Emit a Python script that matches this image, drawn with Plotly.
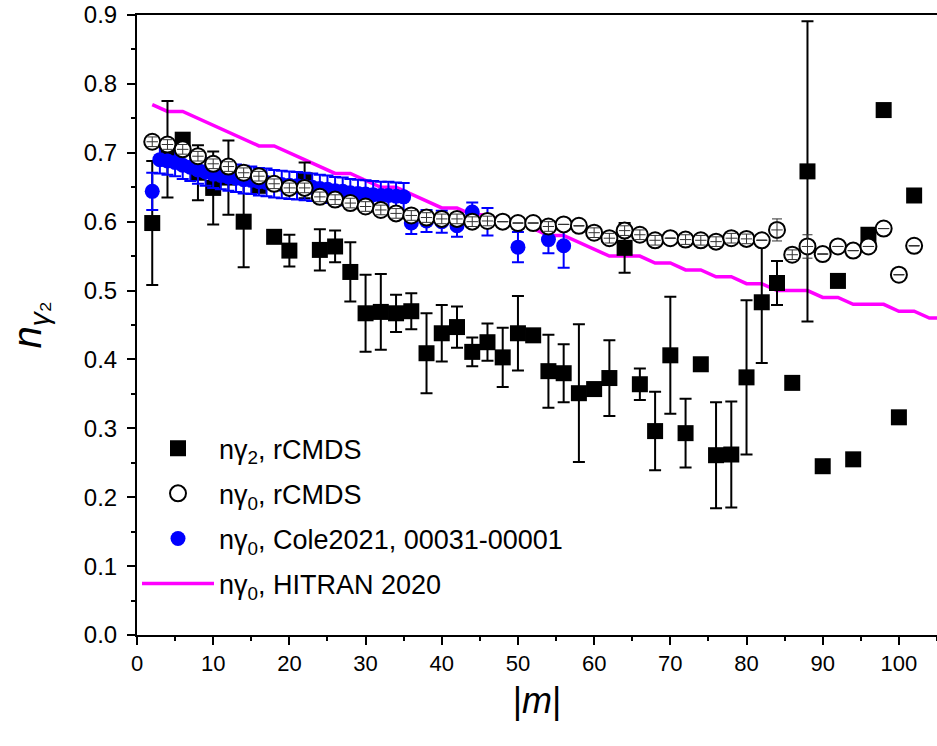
import plotly.graph_objects as go

# |m| values and broadening temperature exponents
m_even = list(range(2, 104, 2))

# n_gamma2 from rCMDS (black squares); None = no error bar reported
n2_rcmds = [0.598, 0.705, 0.719, 0.671, 0.649, 0.664, 0.600, 0.652, 0.578, 0.558,
            0.660, 0.559, 0.564, 0.527, 0.467, 0.469, 0.467, 0.470, 0.409, 0.438,
            0.447, 0.411, 0.425, 0.403, 0.438, 0.435, 0.383, 0.380, 0.351, 0.357,
            0.373, 0.562, 0.364, 0.296, 0.406, 0.293, 0.393, 0.261, 0.262, 0.374,
            0.483, 0.511, 0.366, 0.673, 0.245, 0.514, 0.255, 0.581, 0.762, 0.316,
            0.638]
n2_rcmds_err = [0.090, 0.070, None, 0.040, 0.053, 0.054, 0.066, None, None, 0.023,
                0.026, 0.030, 0.023, 0.043, 0.056, 0.055, 0.027, 0.026, 0.058, 0.041,
                0.030, 0.021, 0.027, 0.043, 0.054, None, 0.053, 0.042, 0.100, None,
                0.055, 0.036, 0.023, 0.057, 0.085, 0.050, None, 0.077, 0.077, 0.112,
                0.088, 0.032, None, 0.218, None, None, None, None, None, None,
                None]

# n_gamma0 from rCMDS (open circles)
n0_rcmds = [0.716, 0.712, 0.705, 0.695, 0.684, 0.680, 0.671, 0.666, 0.655, 0.649,
            0.649, 0.636, 0.632, 0.627, 0.622, 0.617, 0.612, 0.609, 0.606, 0.604,
            0.604, 0.600, 0.601, 0.600, 0.598, 0.598, 0.593, 0.596, 0.594, 0.584,
            0.576, 0.587, 0.581, 0.573, 0.576, 0.574, 0.573, 0.571, 0.576, 0.575,
            0.573, 0.588, 0.552, 0.564, 0.553, 0.564, 0.558, 0.564, 0.590, 0.523,
            0.565]
n0_rcmds_err = [0.007, 0.007, 0.007, 0.007, 0.007, 0.007, 0.007, 0.007, 0.007, 0.007,
                0.007, 0.007, 0.007, 0.007, 0.007, 0.007, 0.007, 0.007, 0.007, 0.007,
                0.007, 0.007, 0.007, None, None, None, 0.007, None, None, 0.007,
                0.007, 0.007, 0.007, 0.007, None, 0.007, 0.007, 0.007, 0.007, 0.007,
                None, 0.016, 0.007, 0.017, None, None, None, None, None, None,
                None]

# n_gamma0, Cole 2021, 00031-00001 band
m_cole = list(range(2, 36)) + [36, 38, 40, 42, 44, 46, 50, 54, 56]
n0_cole = [0.644, 0.690, 0.688, 0.686, 0.682, 0.679, 0.675, 0.672, 0.669, 0.667,
           0.665, 0.663, 0.661, 0.660, 0.658, 0.657, 0.655, 0.654, 0.653, 0.652,
           0.651, 0.650, 0.648, 0.647, 0.645, 0.644, 0.642, 0.641, 0.640, 0.639,
           0.638, 0.638, 0.637, 0.636,
           0.598, 0.601, 0.600, 0.594, 0.614, 0.600, 0.563, 0.574, 0.565]
n0_cole_err = [0.027] + [0.020] * 33 + [0.016, 0.016, 0.016, 0.016, 0.014, 0.020,
                                        0.022, 0.020, 0.032]

# n_gamma0, HITRAN 2020
m_hitran = list(range(2, 108, 2))
n0_hitran = [0.77, 0.76, 0.76, 0.75, 0.74, 0.73, 0.72, 0.71, 0.71, 0.70,
             0.69, 0.68, 0.67, 0.67, 0.66, 0.65, 0.65, 0.64, 0.63, 0.62,
             0.62, 0.61, 0.61, 0.60, 0.60, 0.59, 0.58, 0.58, 0.57, 0.56,
             0.55, 0.55, 0.55, 0.54, 0.54, 0.53, 0.53, 0.52, 0.52, 0.51,
             0.51, 0.50, 0.50, 0.50, 0.49, 0.49, 0.48, 0.48, 0.48, 0.47,
             0.47, 0.46, 0.46]

FONT = "Arial, Liberation Sans, sans-serif"

fig = go.Figure()

# HITRAN line (drawn first, underneath the markers)
fig.add_trace(go.Scatter(
    x=m_hitran, y=n0_hitran, mode="lines",
    line=dict(color="#FF00FF", width=3.5),
    name="n\u03b3<sub>0</sub>, HITRAN 2020",
    legendgroup="d", legendrank=4,
))

# rCMDS n_gamma2
fig.add_trace(go.Scatter(
    x=m_even, y=n2_rcmds, mode="markers",
    marker=dict(symbol="square", size=16, color="black", line=dict(width=0)),
    error_y=dict(type="data", array=n2_rcmds_err, color="black",
                 thickness=2, width=6),
    name="n\u03b3<sub>2</sub>, rCMDS",
    legendgroup="a", legendrank=1,
))

# Cole 2021
fig.add_trace(go.Scatter(
    x=m_cole, y=n0_cole, mode="markers",
    marker=dict(symbol="circle", size=15, color="#0000FF", line=dict(width=0)),
    error_y=dict(type="data", array=n0_cole_err, color="#0000FF",
                 thickness=2, width=6),
    name="n\u03b3<sub>0</sub>, Cole2021, 00031-00001",
    legendgroup="c", legendrank=3,
))

# rCMDS n_gamma0 (open circles)
fig.add_trace(go.Scatter(
    x=m_even, y=n0_rcmds, mode="markers",
    marker=dict(symbol="circle", size=16, color="white",
                line=dict(color="black", width=2)),
    name="n\u03b3<sub>0</sub>, rCMDS",
    legendgroup="b", legendrank=2,
))

# error bars of the open circles, drawn on top of them
fig.add_trace(go.Scatter(
    x=m_even, y=n0_rcmds, mode="markers",
    marker=dict(size=2, color="rgba(0,0,0,0)"),
    error_y=dict(type="data", array=n0_rcmds_err, color="#333333",
                 thickness=1, width=5),
    error_x=dict(type="constant", value=0.75, color="#333333",
                 thickness=1, width=0),
    showlegend=False, hoverinfo="skip",
))

fig.update_layout(
    width=937, height=746,
    margin=dict(l=137, r=0, t=15, b=111),
    paper_bgcolor="white", plot_bgcolor="white",
    font=dict(family=FONT, size=22, color="black"),
    showlegend=True,
    legend=dict(
        x=0.0, y=0.34, xanchor="left", yanchor="top",
        bgcolor="rgba(0,0,0,0)", font=dict(size=27, family=FONT),
        traceorder="grouped", tracegroupgap=7, itemwidth=72,
    ),
    xaxis=dict(
        range=[0, 105], tickmode="linear", tick0=0, dtick=10,
        ticks="outside", ticklen=8, tickwidth=1.5, tickcolor="black",
        minor=dict(dtick=5, ticks="outside", ticklen=4, tickwidth=1.5,
                   tickcolor="black"),
        showline=True, linewidth=2, linecolor="black", mirror=True,
        showgrid=False, zeroline=False,
        tickfont=dict(size=22, family=FONT),
        title=dict(text="|<i>m</i>|", font=dict(size=36, family=FONT),
                   standoff=12),
    ),
    yaxis=dict(
        range=[0, 0.9], tickmode="linear", tick0=0, dtick=0.1,
        tickformat=".1f",
        ticks="outside", ticklen=8, tickwidth=1.5, tickcolor="black",
        ticklabelstandoff=5,
        minor=dict(dtick=0.05, ticks="outside", ticklen=4, tickwidth=1.5,
                   tickcolor="black"),
        showline=True, linewidth=2, linecolor="black",
        showgrid=False, zeroline=False,
        tickfont=dict(size=24, family=FONT),
        title=dict(text="<i>n</i><sub><i>\u03b3</i>\u2082</sub>",
                   font=dict(size=40, family=FONT), standoff=30),
    ),
)

fig.write_html("out.html")
